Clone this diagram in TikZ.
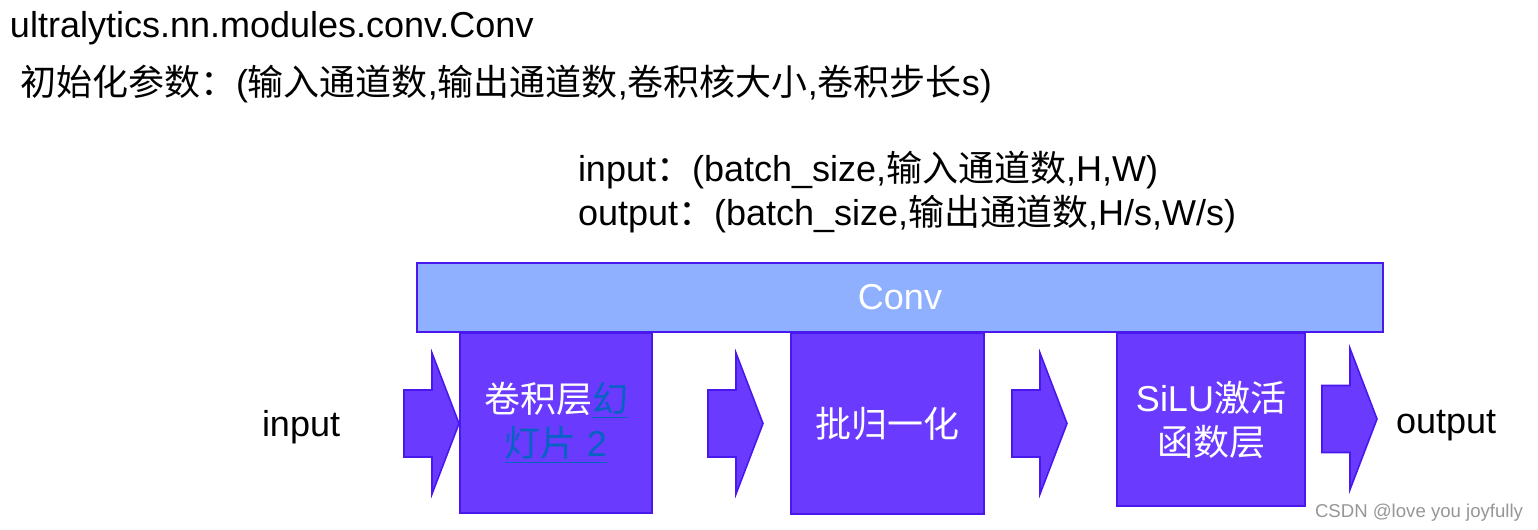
\documentclass[tikz,border=0pt]{standalone}
\usepackage{fontspec}
\setmainfont{Liberation Sans}
\newfontfamily\cjk{Noto Sans CJK SC}
\newcommand{\zh}[1]{{\cjk #1}}
\definecolor{convfill}{RGB}{143,176,255}
\definecolor{boxfill}{RGB}{106,58,255}
\definecolor{edgecol}{RGB}{72,24,238}
\definecolor{linkcol}{RGB}{5,99,193}
\definecolor{wmcol}{RGB}{150,150,150}
\tikzset{
  every node/.style={inner sep=0pt, outer sep=0pt, font=\fontsize{18}{22}\selectfont},
  convbar/.style={draw=edgecol, line width=0.8pt, fill=convfill, text=white,
    minimum width=483pt, minimum height=34.5pt},
  stagebox/.style={draw=edgecol, line width=0.8pt, fill=boxfill, text=white, align=center},
  arrowshape/.style={draw=edgecol, line width=0.8pt, fill=boxfill, line join=miter},
  pics/barrow/.style={code={
    \draw[arrowshape] (0,-33.5) -- (28,-33.5) -- (28,-70.5) -- (55,0) -- (28,70.5)
      -- (28,33.5) -- (0,33.5) -- cycle;}},
  plain/.style={text=black},
  link/.style={text=linkcol}
}
\begin{document}
\begin{tikzpicture}[x=0.5pt, y=-0.5pt]
\useasboundingbox (0,0) rectangle (1538,530);
% header texts
\node[plain, anchor=base west] (title) at (10,37) {ultralytics.nn.modules.conv.Conv};
\node[plain, anchor=base west] (params) at (20,95)
  {\zh{初始化参数：}(\zh{输入通道数},\zh{输出通道数},\zh{卷积核大小},\zh{卷积步长}s)};
\node[plain, anchor=base west] (inshape) at (578,181)
  {input\zh{：}(batch\_size,\zh{输入通道数},H,W)};
\node[plain, anchor=base west] (outshape) at (578,225)
  {output\zh{：}(batch\_size,\zh{输出通道数},H/s,W/s)};
% conv bar
\node[convbar] (conv) at (900,297.5) {Conv};
% stage boxes
\node[stagebox, minimum width=96pt, minimum height=90pt] (b1) at (556,423)
  {\zh{卷积层}\textcolor{linkcol}{\underline{\zh{幻}}}\\
   \textcolor{linkcol}{\underline{\zh{灯片} 2}}};
\node[stagebox, minimum width=96.5pt, minimum height=90.5pt] (b2) at (887.5,423.5)
  {\zh{批归一化}};
\node[stagebox, minimum width=94pt, minimum height=86.5pt] (b3) at (1211,419.5)
  {SiLU\zh{激活}\\\zh{函数层}};
% block arrows
\pic (a1) at (404,423.5) {barrow};
\pic (a2) at (708,423.5) {barrow};
\pic (a3) at (1012,423.5) {barrow};
\pic (a4) at (1322,419) {barrow};
% io labels
\node[plain, anchor=base west] (inlab) at (262,436) {input};
\node[plain, anchor=base west] (outlab) at (1396,433) {output};
% watermark
\node[text=wmcol, anchor=base west, font=\fontsize{9.3}{11}\selectfont] (wm) at (1315,517)
  {CSDN @love you joyfully};
\end{tikzpicture}
\end{document}
